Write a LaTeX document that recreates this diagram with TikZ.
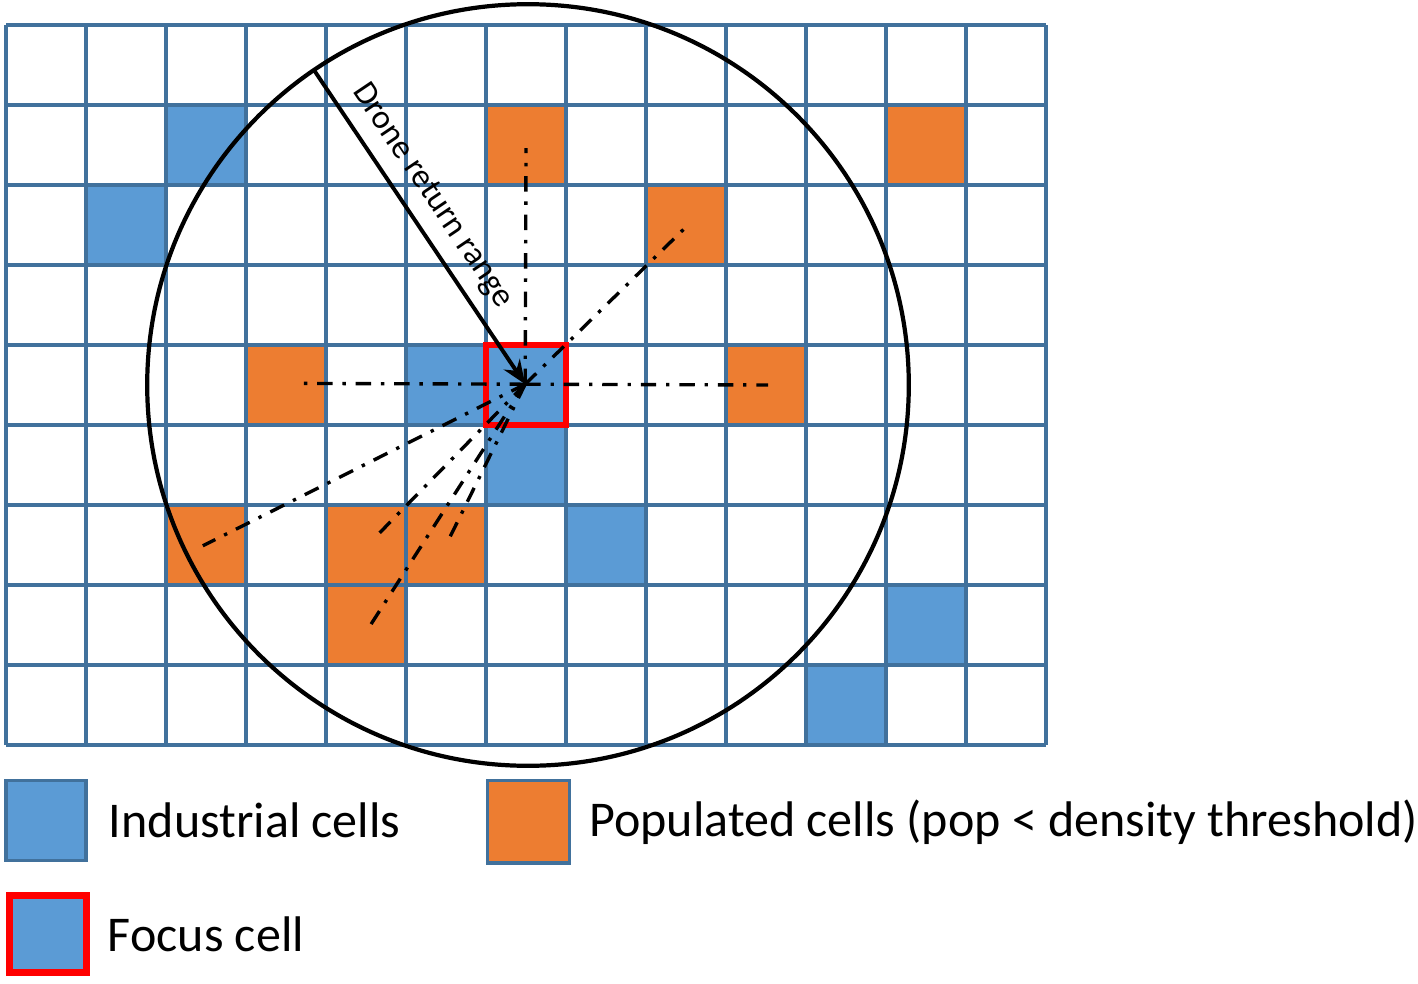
\documentclass[tikz,border=0pt]{standalone}
\usepackage{fontspec}
\setmainfont{Carlito}
\usetikzlibrary{arrows.meta}
\usetikzlibrary{calc}
\usetikzlibrary{positioning}

\definecolor{indblue}{HTML}{5B9BD5}
\definecolor{poporange}{HTML}{ED7D31}
\definecolor{gridblue}{HTML}{41719C}
\definecolor{focusred}{HTML}{FF0000}

\begin{document}
\begin{tikzpicture}[
    cellind/.style={rectangle, fill=indblue, inner sep=0pt, minimum size=1cm},
    cellpop/.style={rectangle, fill=poporange, inner sep=0pt, minimum size=1cm},
    focuscell/.style={rectangle, fill=indblue, draw=focusred, line width=2.4pt, inner sep=0pt, minimum size=1cm},
    gridline/.style={draw=gridblue, line width=1.1pt},
    rayline/.style={line width=1.2pt, dash pattern=on 5.5pt off 3.5pt on 1.2pt off 3.5pt},
    legbox/.style={rectangle, draw=gridblue, line width=1.1pt, inner sep=0pt, minimum size=1cm},
    legtext/.style={inner sep=0pt, font=\fontsize{17.8}{21}\selectfont}
  ]
    \useasboundingbox (-0.075,-2.975) rectangle (17.65,9.3125);

    % industrial cells
    \node[cellind] (ind1) at (2.5,7.5) {};
    \node[cellind] (ind2) at (1.5,6.5) {};
    \node[cellind] (ind3) at (5.5,4.5) {};
    \node[cellind] (ind4) at (6.5,3.5) {};
    \node[cellind] (ind5) at (7.5,2.5) {};
    \node[cellind] (ind6) at (11.5,1.5) {};
    \node[cellind] (ind7) at (10.5,0.5) {};

    % populated cells
    \node[cellpop] (pop1) at (6.5,7.5) {};
    \node[cellpop] (pop2) at (11.5,7.5) {};
    \node[cellpop] (pop3) at (8.5,6.5) {};
    \node[cellpop] (pop4) at (3.5,4.5) {};
    \node[cellpop] (pop5) at (9.5,4.5) {};
    \node[cellpop] (pop6) at (2.5,2.5) {};
    \node[cellpop] (pop7) at (4.5,2.5) {};
    \node[cellpop] (pop8) at (5.5,2.5) {};
    \node[cellpop] (pop9) at (4.5,1.5) {};

    \draw[gridline] (0,0) grid (13,9);

    \node[focuscell] (focus) at (6.5,4.5) {};

    \coordinate (hub) at (6.49,4.51);
    \coordinate (ctr) at (6.525,4.5);
    \coordinate (rim) at ($(ctr)+(124.2:4.76)$);

    \draw[line width=1.5pt] (ctr) circle (4.76);

    % rays to the populated cells
    \coordinate (ray1) at (6.5,7.46);
    \coordinate (ray2) at (8.525,6.5);
    \coordinate (ray3) at (3.65,4.52);
    \coordinate (ray4) at (9.525,4.5);
    \coordinate (ray5) at (2.46,2.49);
    \coordinate (ray6) at (4.6,2.58);
    \coordinate (ray7) at (5.52,2.54);
    \coordinate (ray8) at (4.55,1.49);
    \draw[rayline] (hub) -- (ray1);
    \draw[rayline] (hub) -- (ray2);
    \draw[rayline] (hub) -- (ray3);
    \draw[rayline] (hub) -- (ray4);
    \draw[rayline] (hub) -- (ray5);
    \draw[rayline] (hub) -- (ray6);
    \draw[rayline] (hub) -- (ray7);
    \draw[rayline] (hub) -- (ray8);

    \draw[line width=1.4pt, -{Stealth[length=3mm, width=2.4mm]}] (rim) -- (hub)
      node[pos=0.45, above=1pt, sloped, font=\fontsize{12}{14}\selectfont] (rangelbl) {Drone return range};

    % legend
    \node[legbox, fill=indblue] (legind) at (0.5,-0.94) {};
    \node[legtext, right=0.26cm of legind] (legindtxt) {Industrial cells};
    \node[legbox, fill=poporange, minimum size=1.03cm] (legpop) at (6.53,-0.96) {};
    \node[legtext, right=0.22cm of legpop] (legpoptxt) {Populated cells (pop < density threshold)};
    \node[focuscell, minimum size=0.96cm] (legfocus) at (0.525,-2.36) {};
    \node[legtext, right=0.22cm of legfocus] (legfocustxt) {Focus cell};
  \end{tikzpicture}
\end{document}
